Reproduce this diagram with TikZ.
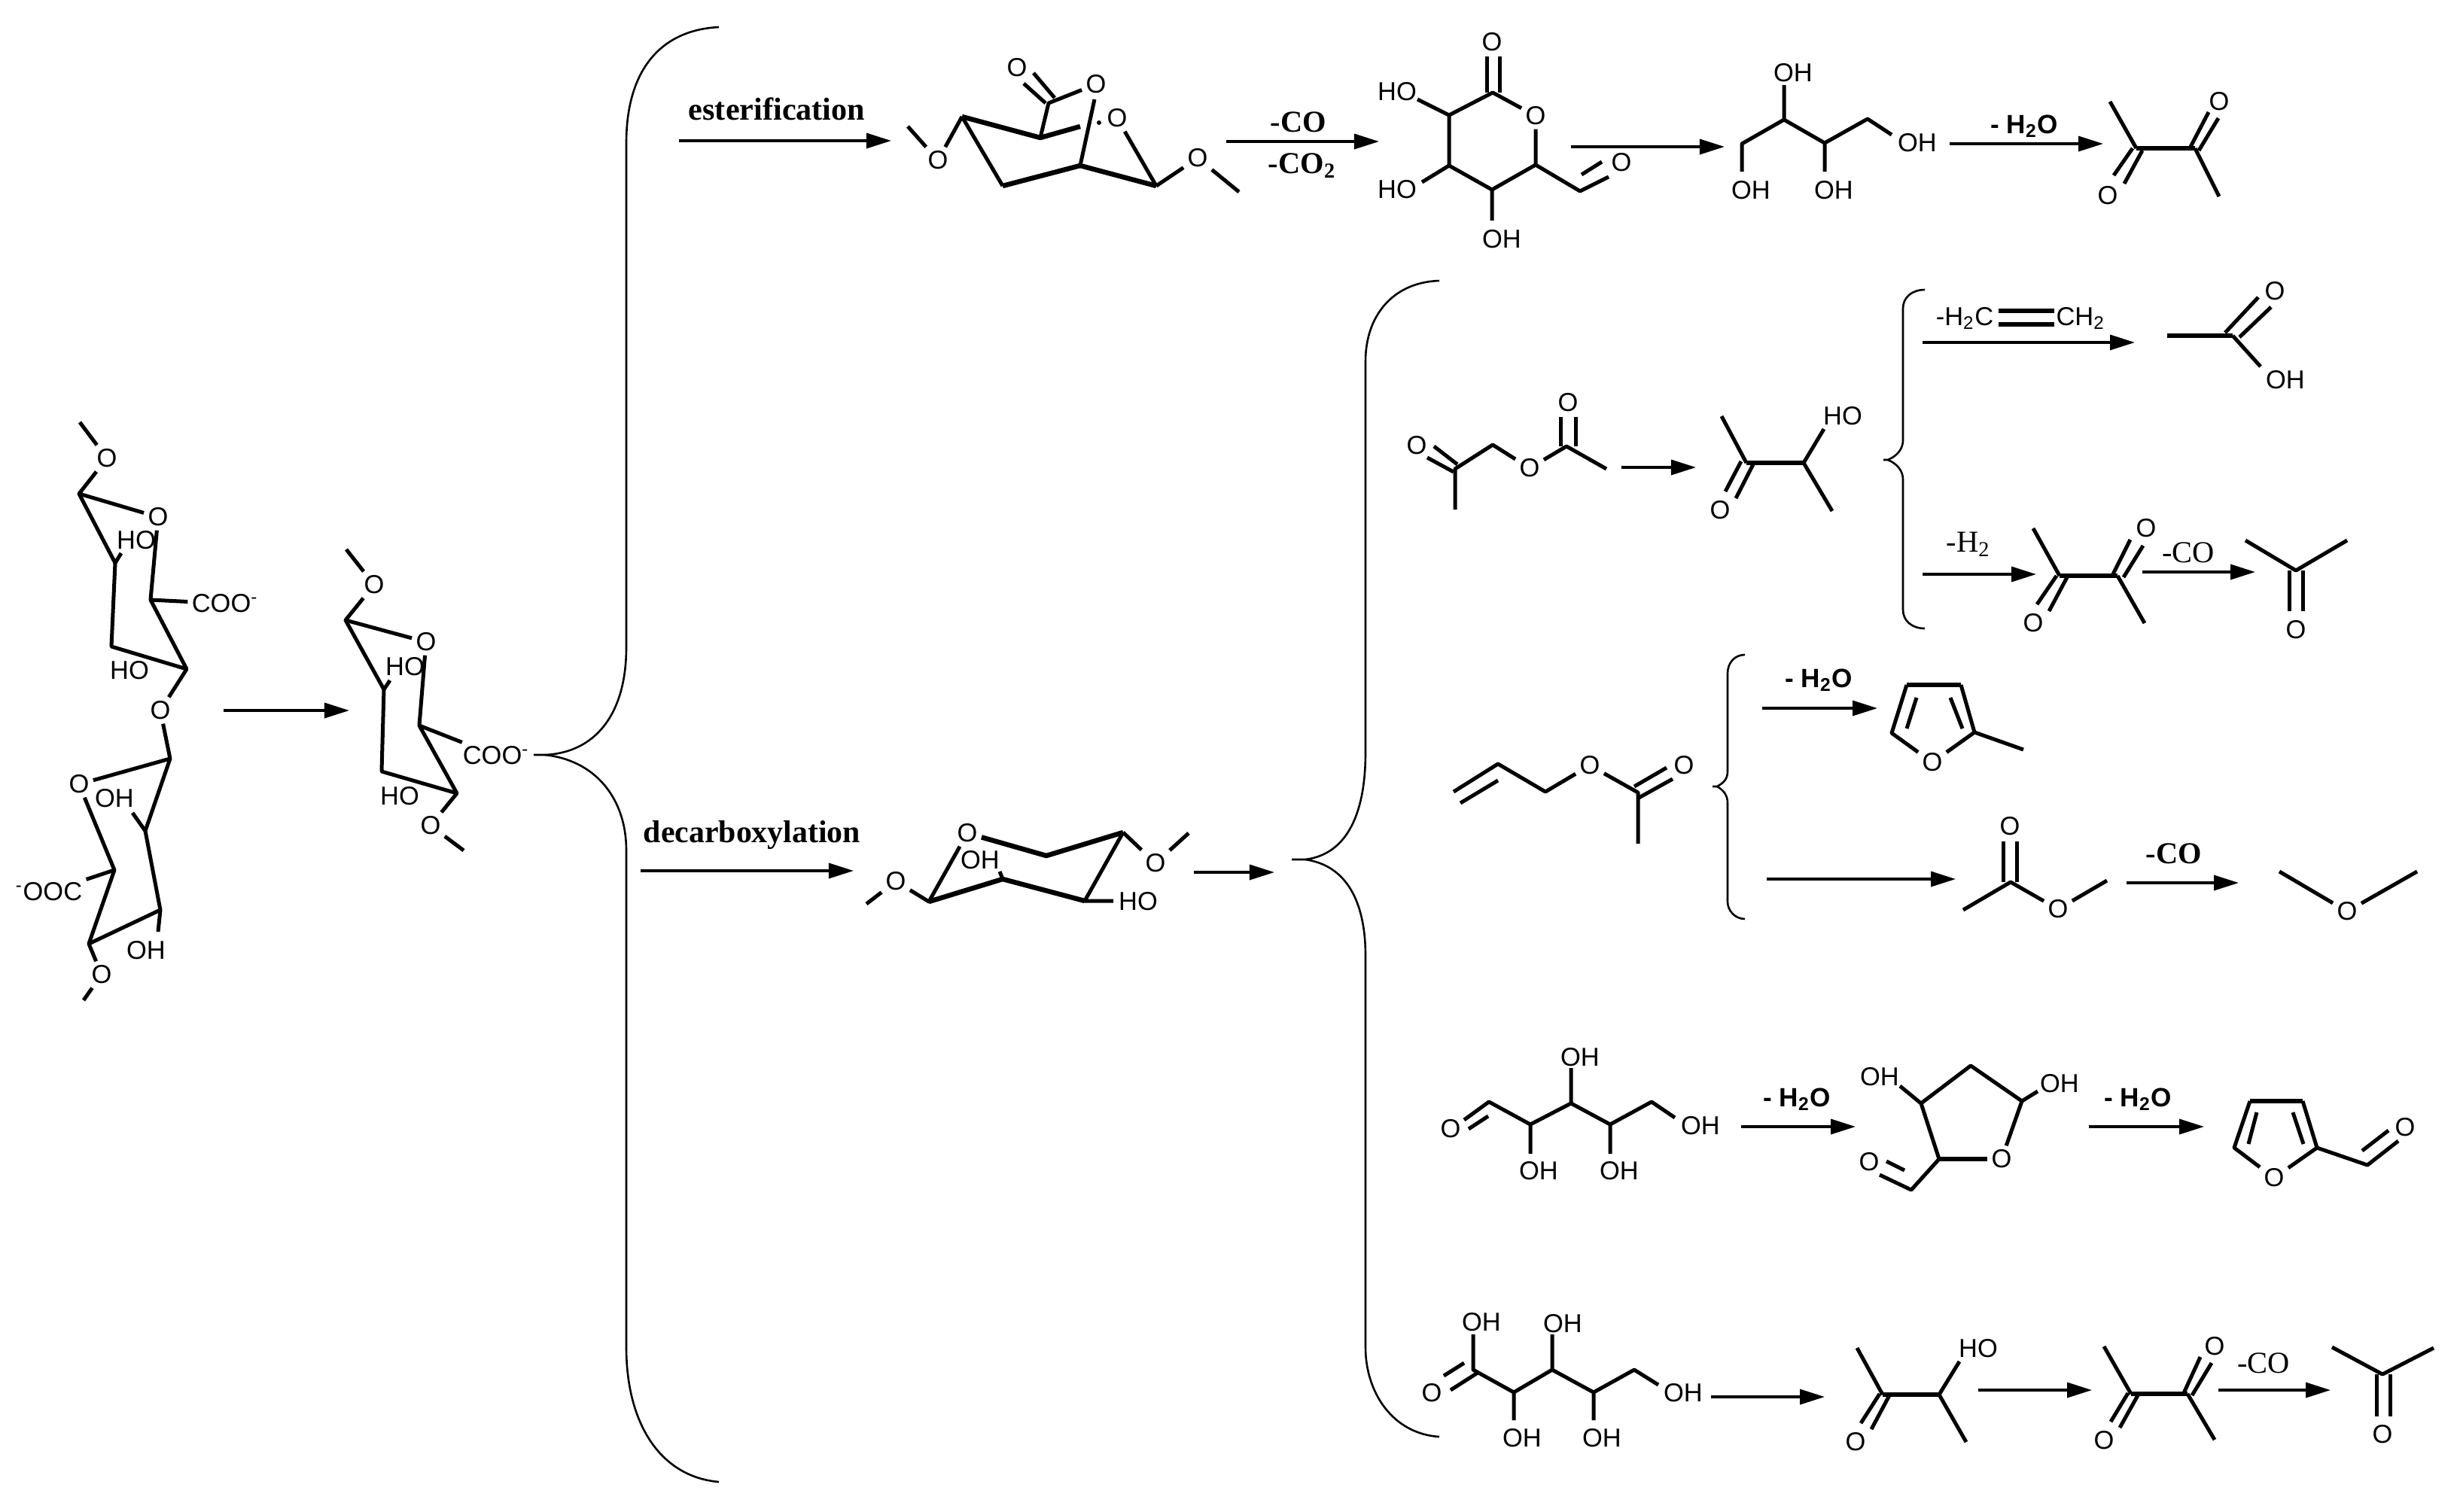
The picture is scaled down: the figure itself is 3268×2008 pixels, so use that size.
\documentclass[tikz,border=0pt]{standalone}
\usepackage{fontspec}
\setmainfont{Liberation Serif}
\setsansfont{Liberation Sans}
\usetikzlibrary{arrows.meta}
\tikzset{
  bond/.style={line width=.05cm,line join=round},
  bondb/.style={line width=.065cm,line join=round},
  brace/.style={line width=.026cm},
  rxn/.style={line width=.034cm,-{Triangle[length=.33cm,width=.2cm]}},
  atom/.style={font=\sffamily\fontsize{9.8}{11}\selectfont,inner sep=.055cm,outer sep=0pt},
  lbold/.style={font=\rmfamily\bfseries\fontsize{11.5}{14}\selectfont,anchor=base,inner sep=0pt},
  lplain/.style={font=\rmfamily\fontsize{11.5}{14}\selectfont,anchor=base,inner sep=0pt},
  lsans/.style={font=\sffamily\bfseries\fontsize{10}{12}\selectfont,anchor=base,inner sep=0pt}
}
\begin{document}
\begin{tikzpicture}[x=.01cm,y=-.01cm]
\useasboundingbox (0,0) rectangle (3268,2008);

\coordinate (A1) at (106,561); \coordinate (A2) at (105,656); \coordinate (A3) at (153,748);
\coordinate (A4) at (161,735); \coordinate (A5) at (148,859); \coordinate (A6) at (248,889);
\coordinate (A7) at (200,797); \coordinate (A8) at (226,1008); \coordinate (A9) at (193,1104);
\coordinate (A10) at (176,1080); \coordinate (A11) at (213,1209); \coordinate (A12) at (210,1238);
\coordinate (A13) at (118,1254); \coordinate (A14) at (152,1156); \coordinate (A15) at (111,1329);
\node[atom] (AO1) at (142,609) {O};
\node[atom] (AO2) at (210,687) {O};
\node[atom] (AO3) at (213,944) {O};
\node[atom] (AO4) at (105,1042) {O};
\node[atom] (AO5) at (135,1295) {O};
\node[atom] (AH1) at (181,718) {HO};
\node[atom] (AH2) at (172,891) {HO};
\node[atom] (AH3) at (152,1061) {OH};
\node[atom] (AH4) at (194,1263) {OH};
\node[atom] (AC1) at (299,802) {COO\textsuperscript{-}};
\node[atom] (AC2) at (65,1185) {\textsuperscript{-}OOC};
\draw[bond] (A1) -- (AO1) -- (A2) -- (AO2);
\draw[bond] (A2) -- (A3) -- (A4);
\draw[bond] (A3) -- (A5) -- (A6) -- (A7) -- (AO2);
\draw[bond] (A7) -- (AC1);
\draw[bond] (A6) -- (AO3) -- (A8) -- (AO4) -- (A14);
\draw[bond] (A8) -- (A9) -- (A10);
\draw[bond] (A9) -- (A11) -- (A12);
\draw[bond] (A11) -- (A13) -- (A14) -- (AC2);
\draw[bond] (A13) -- (AO5) -- (A15);
\coordinate (Ra1) at (297,944); \coordinate (Ra2) at (464,944);
\draw[rxn] (Ra1) -- (Ra2);

\coordinate (B1) at (460,730); \coordinate (B2) at (459,824); \coordinate (B3) at (510,916);
\coordinate (B4) at (518,904); \coordinate (B5) at (507,1025); \coordinate (B6) at (607,1054);
\coordinate (B7) at (557,964); \coordinate (B8) at (616,1130);
\node[atom] (BO1) at (497,777) {O};
\node[atom] (BO2) at (566,853) {O};
\node[atom] (BO3) at (572,1097) {O};
\node[atom] (BH1) at (538,886) {HO};
\node[atom] (BH2) at (531,1058) {HO};
\node[atom] (BC) at (659,1004) {COO\textsuperscript{-}};
\draw[bond] (B1) -- (BO1) -- (B2) -- (BO2);
\draw[bond] (B2) -- (B3) -- (B4);
\draw[bond] (B3) -- (B5) -- (B6) -- (B7) -- (BO2);
\draw[bond] (B7) -- (BC);
\draw[bond] (B6) -- (BO3) -- (B8);

\coordinate (Ba) at (709,1003); \coordinate (Bb) at (724,1003);
\draw[brace] (Ba) -- (Bb) .. controls (790,1000) and (832,950) .. (832,860) -- (832,190) .. controls (832,95) and (876,40) .. (955,36);
\draw[brace] (Bb) .. controls (790,1010) and (832,1060) .. (832,1130) -- (832,1790) .. controls (832,1890) and (876,1962) .. (955,1969);

\node[lbold,font=\rmfamily\bfseries\fontsize{12}{14}\selectfont] (Lest) at (1032,159) {esterification};
\coordinate (Rb1) at (902,187); \coordinate (Rb2) at (1184,187);
\draw[rxn] (Rb1) -- (Rb2);

\coordinate (C1) at (1206,168); \coordinate (C2) at (1278,155); \coordinate (C3) at (1382,183);
\coordinate (C4) at (1435,168); \coordinate (C5) at (1393,137); \coordinate (C6) at (1435,220);
\coordinate (C7) at (1332,247); \coordinate (C8) at (1536,247); \coordinate (C9) at (1646,255);
\coordinate (C10) at (1373,97); \coordinate (C11) at (1401,130); \coordinate (C12) at (1360,111);
\coordinate (C13) at (1389,137); \coordinate (C14) at (1454,132);
\node[atom] (CO1) at (1246,213) {O};
\node[atom] (CO2) at (1351,90) {O};
\node[atom] (CO3) at (1456,112) {O};
\node[atom] (CO4) at (1484,157) {O};
\node[atom] (CO5) at (1591,210) {O};
\fill (1460,163) circle (3);
\draw[bond] (C1) -- (CO1) -- (C2);
\draw[bondb] (C2) -- (C3) -- (C4);
\draw[bond] (C2) -- (C7);
\draw[bond] (C3) -- (C5) -- (CO3);
\draw[bond] (C10) -- (C11);
\draw[bond] (C12) -- (C13);
\draw[bond] (C14) -- (C6);
\draw[bondb] (C7) -- (C6) -- (C8);
\draw[bond] (C8) -- (CO4);
\draw[bond] (C8) -- (CO5) -- (C9);

\node[lbold] (Lco) at (1725,175) {-CO};
\node[lbold] (Lco2) at (1730,230) {-CO\textsubscript{2}};
\coordinate (Rc1) at (1629,188); \coordinate (Rc2) at (1832,188);
\draw[rxn] (Rc1) -- (Rc2);

\coordinate (D1) at (1883,132); \coordinate (D2) at (1925,153); \coordinate (D3) at (1983,123);
\coordinate (D4) at (1975,123); \coordinate (D5) at (1975,75); \coordinate (D6) at (1992,123);
\coordinate (D7) at (1992,75); \coordinate (D8) at (1925,220); \coordinate (D9) at (1889,242);
\coordinate (D10) at (1982,252); \coordinate (D11) at (1982,293); \coordinate (D12) at (2040,219);
\coordinate (D13) at (2099,254); \coordinate (D14) at (2137,235); \coordinate (D15) at (2101,232);
\coordinate (D16) at (2128,215);
\node[atom] (DO1) at (1982,56) {O};
\node[atom] (DO2) at (2040,154) {O};
\node[atom] (DO3) at (2154,216) {O};
\node[atom] (DH1) at (1856,122) {HO};
\node[atom] (DH2) at (1856,252) {HO};
\node[atom] (DH3) at (1995,318) {OH};
\draw[bond] (D1) -- (D2) -- (D3) -- (DO2) -- (D12);
\draw[bond] (D4) -- (D5);
\draw[bond] (D6) -- (D7);
\draw[bond] (D2) -- (D8) -- (D9);
\draw[bond] (D8) -- (D10) -- (D11);
\draw[bond] (D10) -- (D12) -- (D13) -- (D14);
\draw[bond] (D15) -- (D16);
\coordinate (Rd1) at (2087,195); \coordinate (Rd2) at (2291,195);
\draw[rxn] (Rd1) -- (Rd2);

\coordinate (E1) at (2314,228); \coordinate (E2) at (2314,191); \coordinate (E3) at (2370,159);
\coordinate (E4) at (2370,113); \coordinate (E5) at (2424,190); \coordinate (E6) at (2424,228);
\coordinate (E7) at (2481,158); \coordinate (E8) at (2513,179);
\node[atom] (EH1) at (2326,253) {OH};
\node[atom] (EH2) at (2382,97) {OH};
\node[atom] (EH3) at (2436,253) {OH};
\node[atom] (EH4) at (2547,190) {OH};
\draw[bond] (E1) -- (E2) -- (E3) -- (E4);
\draw[bond] (E3) -- (E5) -- (E6);
\draw[bond] (E5) -- (E7) -- (E8);
\node[lsans] (Lw1) at (2689,177) {- H\textsubscript{2}O};
\coordinate (Re1) at (2590,191); \coordinate (Re2) at (2794,191);
\draw[rxn] (Re1) -- (Re2);

\coordinate (F1) at (2803,135); \coordinate (F2) at (2838,197); \coordinate (F3) at (2916,197);
\coordinate (F4) at (2948,261); \coordinate (F5) at (2909,197); \coordinate (F6) at (2934,149);
\coordinate (F7) at (2921,200); \coordinate (F8) at (2947,157); \coordinate (F9) at (2833,197);
\coordinate (F10) at (2808,233); \coordinate (F11) at (2846,200); \coordinate (F12) at (2822,244);
\node[atom] (FO1) at (2948,135) {O};
\node[atom] (FO2) at (2800,260) {O};
\draw[bond] (F1) -- (F2);
\draw[bondb] (F2) -- (F3);
\draw[bond] (F3) -- (F4);
\draw[bond] (F5) -- (F6);
\draw[bond] (F7) -- (F8);
\draw[bond] (F9) -- (F10);
\draw[bond] (F11) -- (F12);

\coordinate (Bc) at (1716,1142); \coordinate (Bd) at (1734,1142);
\draw[brace] (Bc) -- (Bd) .. controls (1790,1135) and (1814,1080) .. (1814,1000) -- (1814,480) .. controls (1814,420) and (1850,375) .. (1912,373);
\draw[brace] (Bd) .. controls (1790,1150) and (1814,1200) .. (1814,1270) -- (1814,1790) .. controls (1814,1850) and (1850,1905) .. (1912,1909);
\coordinate (Rf1) at (851,1157); \coordinate (Rf2) at (1134,1157);
\node[lbold,font=\rmfamily\bfseries\fontsize{11.9}{14}\selectfont] (Ldec) at (999,1119) {decarboxylation};
\draw[rxn] (Rf1) -- (Rf2);

\coordinate (P1) at (1151,1201); \coordinate (P2) at (1234,1198); \coordinate (P3) at (1390,1137);
\coordinate (P4) at (1492,1106); \coordinate (P5) at (1579,1107); \coordinate (P6) at (1441,1197);
\coordinate (P7) at (1332,1168); \coordinate (P8) at (1328,1158); \coordinate (P9) at (1479,1197);
\node[atom] (PO1) at (1190,1171) {O};
\node[atom] (PO2) at (1285,1107) {O};
\node[atom] (PO3) at (1535,1147) {O};
\node[atom] (PH1) at (1302,1143) {OH};
\node[atom] (PH2) at (1512,1198) {HO};
\draw[bond] (P1) -- (PO1) -- (P2) -- (PO2);
\draw[bondb] (PO2) -- (P3) -- (P4);
\draw[bond] (P4) -- (PO3) -- (P5);
\draw[bond] (P4) -- (P6) -- (P9);
\draw[bondb] (P6) -- (P7) -- (P2);
\draw[bond] (P7) -- (P8);
\coordinate (Rg1) at (1586,1159); \coordinate (Rg2) at (1693,1159);
\draw[rxn] (Rg1) -- (Rg2);

\coordinate (G1) at (1933,677); \coordinate (G2) at (1933,623); \coordinate (G3) at (1936,617);
\coordinate (G4) at (1905,593); \coordinate (G5) at (1931,627); \coordinate (G6) at (1896,608);
\coordinate (G7) at (1983,591); \coordinate (G8) at (2081,593); \coordinate (G9) at (2134,623);
\coordinate (G10) at (2073,593); \coordinate (G11) at (2073,554); \coordinate (G12) at (2093,593);
\coordinate (G13) at (2093,554);
\node[atom] (GO1) at (1882,592) {O};
\node[atom] (GO2) at (2032,622) {O};
\node[atom] (GO3) at (2083,535) {O};
\draw[bond] (G1) -- (G2) -- (G7) -- (GO2) -- (G8) -- (G9);
\draw[bond] (G3) -- (G4);
\draw[bond] (G5) -- (G6);
\draw[bond] (G10) -- (G11);
\draw[bond] (G12) -- (G13);
\coordinate (Rh1) at (2154,621); \coordinate (Rh2) at (2253,621);
\draw[rxn] (Rh1) -- (Rh2);

\coordinate (H1) at (2287,553); \coordinate (H2) at (2320,615); \coordinate (H3) at (2396,615);
\coordinate (H4) at (2434,679); \coordinate (H5) at (2423,570); \coordinate (H6) at (2313,613);
\coordinate (H7) at (2292,653); \coordinate (H8) at (2329,617); \coordinate (H9) at (2306,662);
\node[atom] (HH) at (2448,553) {HO};
\node[atom] (HO1) at (2285,678) {O};
\draw[bond] (H1) -- (H2);
\draw[bondb] (H2) -- (H3);
\draw[bond] (H5) -- (H3) -- (H4);
\draw[bond] (H6) -- (H7);
\draw[bond] (H8) -- (H9);

\coordinate (Be) at (2502,611); \coordinate (Bf) at (2508,611);
\draw[brace] (Be) -- (Bf) .. controls (2522,605) and (2528,595) .. (2528,585) -- (2528,410) .. controls (2528,395) and (2540,385) .. (2557,385);
\draw[brace] (Bf) .. controls (2522,617) and (2528,627) .. (2528,637) -- (2528,810) .. controls (2528,825) and (2540,835) .. (2557,835);

\node[atom] (Iha) at (2610,423) {-H\textsubscript{2}C};
\node[atom] (Ihb) at (2764,423) {CH\textsubscript{2}};
\coordinate (I1) at (2655,413); \coordinate (I2) at (2729,413); \coordinate (I3) at (2655,431);
\coordinate (I4) at (2729,431);
\draw[bondb] (I1) -- (I2);
\draw[bondb] (I3) -- (I4);
\coordinate (Ri1) at (2554,455); \coordinate (Ri2) at (2836,455);
\draw[rxn] (Ri1) -- (Ri2);

\coordinate (J1) at (2879,446); \coordinate (J2) at (2966,446); \coordinate (J3) at (2956,442);
\coordinate (J4) at (3000,395); \coordinate (J5) at (2975,448); \coordinate (J6) at (3017,408);
\coordinate (J7) at (3003,487);
\node[atom] (JO) at (3022,387) {O};
\node[atom] (JH) at (3036,505) {OH};
\draw[bondb] (J1) -- (J2);
\draw[bond] (J2) -- (J7);
\draw[bond] (J3) -- (J4);
\draw[bond] (J5) -- (J6);

\node[lplain] (Lh2) at (2615,733) {-H\textsubscript{2}};
\coordinate (Rj1) at (2554,763); \coordinate (Rj2) at (2705,763);
\draw[rxn] (Rj1) -- (Rj2);

\coordinate (K1) at (2701,702); \coordinate (K2) at (2736,765); \coordinate (K3) at (2813,765);
\coordinate (K4) at (2849,828); \coordinate (K5) at (2806,765); \coordinate (K6) at (2830,717);
\coordinate (K7) at (2821,767); \coordinate (K8) at (2847,725); \coordinate (K9) at (2732,765);
\coordinate (K10) at (2706,803); \coordinate (K11) at (2746,767); \coordinate (K12) at (2722,812);
\node[atom] (KO1) at (2851,702) {O};
\node[atom] (KO2) at (2701,828) {O};
\draw[bond] (K1) -- (K2);
\draw[bondb] (K2) -- (K3);
\draw[bond] (K3) -- (K4);
\draw[bond] (K5) -- (K6);
\draw[bond] (K7) -- (K8);
\draw[bond] (K9) -- (K10);
\draw[bond] (K11) -- (K12);
\node[lplain] (Lc1) at (2907,747) {-CO};
\coordinate (Rk1) at (2846,760); \coordinate (Rk2) at (2996,760);
\draw[rxn] (Rk1) -- (Rk2);

\coordinate (L1) at (2983,718); \coordinate (L2) at (3050,758); \coordinate (L3) at (3118,718);
\coordinate (L4) at (3041,758); \coordinate (L5) at (3041,812); \coordinate (L6) at (3059,758);
\coordinate (L7) at (3059,812);
\node[atom] (LO) at (3050,837) {O};
\draw[bond] (L1) -- (L2) -- (L3);
\draw[bond] (L4) -- (L5);
\draw[bond] (L6) -- (L7);

\coordinate (M1) at (1931,1052); \coordinate (M2) at (1990,1015); \coordinate (M3) at (1940,1067);
\coordinate (M4) at (1990,1037); \coordinate (M5) at (2053,1052); \coordinate (M6) at (2176,1053);
\coordinate (M7) at (2171,1045); \coordinate (M8) at (2214,1020); \coordinate (M9) at (2177,1060);
\coordinate (M10) at (2222,1035); \coordinate (M11) at (2176,1121);
\node[atom] (MO1) at (2112,1017) {O};
\node[atom] (MO2) at (2237,1017) {O};
\draw[bond] (M1) -- (M2) -- (M5) -- (MO1) -- (M6) -- (M11);
\draw[bond] (M3) -- (M4);
\draw[bond] (M7) -- (M8);
\draw[bond] (M9) -- (M10);

\coordinate (Bg) at (2275,1045); \coordinate (Bh) at (2281,1045);
\draw[brace] (Bg) -- (Bh) .. controls (2290,1040) and (2295,1035) .. (2295,1025) -- (2295,895) .. controls (2295,880) and (2305,870) .. (2318,870);
\draw[brace] (Bh) .. controls (2290,1050) and (2295,1057) .. (2295,1067) -- (2295,1198) .. controls (2295,1210) and (2305,1221) .. (2318,1221);

\node[lsans] (Lw2) at (2416,913) {- H\textsubscript{2}O};
\coordinate (Rm1) at (2341,941); \coordinate (Rm2) at (2494,941);
\draw[rxn] (Rm1) -- (Rm2);

\coordinate (N1) at (2533,910); \coordinate (N2) at (2605,910); \coordinate (N3) at (2513,974);
\coordinate (N4) at (2623,973); \coordinate (N5) at (2546,927); \coordinate (N6) at (2533,968);
\coordinate (N7) at (2591,927); \coordinate (N8) at (2607,968); \coordinate (N9) at (2688,996);
\node[atom] (NO) at (2567,1013) {O};
\draw[bondb] (N1) -- (N2);
\draw[bond] (N1) -- (N3) -- (NO) -- (N4) -- (N2);
\draw[bond] (N5) -- (N6);
\draw[bond] (N7) -- (N8);
\draw[bond] (N4) -- (N9);

\coordinate (Rn1) at (2347,1168); \coordinate (Rn2) at (2598,1168);
\draw[rxn] (Rn1) -- (Rn2);

\coordinate (Q1) at (2608,1209); \coordinate (Q2) at (2671,1172); \coordinate (Q3) at (2661,1172);
\coordinate (Q4) at (2661,1118); \coordinate (Q5) at (2679,1172); \coordinate (Q6) at (2679,1118);
\coordinate (Q7) at (2799,1170);
\node[atom] (QO1) at (2670,1098) {O};
\node[atom] (QO2) at (2734,1208) {O};
\draw[bond] (Q1) -- (Q2) -- (QO2) -- (Q7);
\draw[bond] (Q3) -- (Q4);
\draw[bond] (Q5) -- (Q6);
\node[lbold] (Lc2) at (2888,1147) {-CO};
\coordinate (Rq1) at (2825,1173); \coordinate (Rq2) at (2974,1173);
\draw[rxn] (Rq1) -- (Rq2);

\coordinate (S1) at (3028,1158); \coordinate (S2) at (3211,1158);
\node[atom] (SO) at (3118,1211) {O};
\draw[bond] (S1) -- (SO) -- (S2);

\coordinate (T1) at (1978,1464); \coordinate (T2) at (1945,1488); \coordinate (T3) at (1977,1483);
\coordinate (T4) at (1951,1500); \coordinate (T5) at (2033,1494); \coordinate (T6) at (2033,1533);
\coordinate (T7) at (2087,1466); \coordinate (T8) at (2087,1419); \coordinate (T9) at (2139,1494);
\coordinate (T10) at (2139,1533); \coordinate (T11) at (2194,1464); \coordinate (T12) at (2225,1485);
\node[atom] (TO) at (1927,1500) {O};
\node[atom] (TH1) at (2044,1556) {OH};
\node[atom] (TH2) at (2099,1405) {OH};
\node[atom] (TH3) at (2151,1556) {OH};
\node[atom] (TH4) at (2259,1496) {OH};
\draw[bond] (T2) -- (T1) -- (T5) -- (T6);
\draw[bond] (T3) -- (T4);
\draw[bond] (T5) -- (T7) -- (T8);
\draw[bond] (T7) -- (T9) -- (T10);
\draw[bond] (T9) -- (T11) -- (T12);
\node[lsans] (Lw3) at (2387,1470) {- H\textsubscript{2}O};
\coordinate (Rt1) at (2313,1497); \coordinate (Rt2) at (2465,1497);
\draw[rxn] (Rt1) -- (Rt2);

\coordinate (U1) at (2524,1443); \coordinate (U2) at (2552,1466); \coordinate (U3) at (2618,1416);
\coordinate (U4) at (2686,1463); \coordinate (U5) at (2707,1450); \coordinate (U6) at (2576,1540);
\coordinate (U7) at (2539,1581); \coordinate (U8) at (2497,1561); \coordinate (U9) at (2506,1543);
\coordinate (U10) at (2530,1555);
\node[atom] (UH1) at (2497,1431) {OH};
\node[atom] (UH2) at (2736,1440) {OH};
\node[atom] (UO1) at (2659,1540) {O};
\node[atom] (UO2) at (2483,1544) {O};
\draw[bond] (U1) -- (U2) -- (U3) -- (U4) -- (U5);
\draw[bond] (U4) -- (UO1);
\draw[bondb] (UO1) -- (U6);
\draw[bond] (U2) -- (U6) -- (U7) -- (U8);
\draw[bond] (U9) -- (U10);
\node[lsans] (Lw4) at (2840,1470) {- H\textsubscript{2}O};
\coordinate (Ru1) at (2775,1497); \coordinate (Ru2) at (2928,1497);
\draw[rxn] (Ru1) -- (Ru2);

\coordinate (V1) at (2989,1463); \coordinate (V2) at (3059,1463); \coordinate (V3) at (2968,1525);
\coordinate (V4) at (3078,1525); \coordinate (V5) at (2998,1478); \coordinate (V6) at (2987,1520);
\coordinate (V7) at (3046,1478); \coordinate (V8) at (3060,1520); \coordinate (V9) at (3145,1548);
\coordinate (V10) at (3186,1516); \coordinate (V11) at (3138,1529); \coordinate (V12) at (3173,1502);
\node[atom] (VO1) at (3021,1565) {O};
\node[atom] (VO2) at (3195,1498) {O};
\draw[bondb] (V1) -- (V2);
\draw[bond] (V1) -- (V3) -- (VO1) -- (V4) -- (V2);
\draw[bond] (V5) -- (V6);
\draw[bond] (V7) -- (V8);
\draw[bond] (V4) -- (V9) -- (V10);
\draw[bond] (V11) -- (V12);

\coordinate (W1) at (1945,1811); \coordinate (W2) at (1918,1828); \coordinate (W3) at (1963,1824);
\coordinate (W4) at (1927,1847); \coordinate (W5) at (1957,1773); \coordinate (W6) at (1957,1820);
\coordinate (W7) at (2011,1850); \coordinate (W8) at (2011,1887); \coordinate (W9) at (2062,1820);
\coordinate (W10) at (2062,1773); \coordinate (W11) at (2117,1850); \coordinate (W12) at (2117,1887);
\coordinate (W13) at (2171,1820); \coordinate (W14) at (2203,1840);
\node[atom] (WO) at (1902,1851) {O};
\node[atom] (WH1) at (1968,1757) {OH};
\node[atom] (WH2) at (2022,1911) {OH};
\node[atom] (WH3) at (2076,1759) {OH};
\node[atom] (WH4) at (2128,1911) {OH};
\node[atom] (WH5) at (2236,1851) {OH};
\draw[bond] (W1) -- (W2);
\draw[bond] (W3) -- (W4);
\draw[bond] (W5) -- (W6) -- (W7) -- (W8);
\draw[bond] (W7) -- (W9) -- (W10);
\draw[bond] (W9) -- (W11) -- (W12);
\draw[bond] (W11) -- (W13) -- (W14);
\coordinate (Rw1) at (2273,1856); \coordinate (Rw2) at (2424,1856);
\draw[rxn] (Rw1) -- (Rw2);

\coordinate (X1) at (2467,1791); \coordinate (X2) at (2501,1853); \coordinate (X3) at (2576,1853);
\coordinate (X4) at (2612,1916); \coordinate (X5) at (2603,1809); \coordinate (X6) at (2497,1852);
\coordinate (X7) at (2472,1891); \coordinate (X8) at (2510,1854); \coordinate (X9) at (2486,1899);
\node[atom] (XH) at (2628,1792) {HO};
\node[atom] (XO) at (2465,1916) {O};
\draw[bond] (X1) -- (X2);
\draw[bondb] (X2) -- (X3);
\draw[bond] (X5) -- (X3) -- (X4);
\draw[bond] (X6) -- (X7);
\draw[bond] (X8) -- (X9);
\coordinate (Rx1) at (2628,1847); \coordinate (Rx2) at (2779,1847);
\draw[rxn] (Rx1) -- (Rx2);

\coordinate (Y1) at (2795,1789); \coordinate (Y2) at (2831,1852); \coordinate (Y3) at (2906,1852);
\coordinate (Y4) at (2942,1913); \coordinate (Y5) at (2901,1851); \coordinate (Y6) at (2923,1803);
\coordinate (Y7) at (2912,1854); \coordinate (Y8) at (2938,1811); \coordinate (Y9) at (2827,1851);
\coordinate (Y10) at (2804,1889); \coordinate (Y11) at (2840,1854); \coordinate (Y12) at (2816,1897);
\node[atom] (YO1) at (2942,1789) {O};
\node[atom] (YO2) at (2795,1914) {O};
\draw[bond] (Y1) -- (Y2);
\draw[bondb] (Y2) -- (Y3);
\draw[bond] (Y3) -- (Y4);
\draw[bond] (Y5) -- (Y6);
\draw[bond] (Y7) -- (Y8);
\draw[bond] (Y9) -- (Y10);
\draw[bond] (Y11) -- (Y12);
\node[lplain] (Lc3) at (3007,1824) {-CO};
\coordinate (Ry1) at (2947,1847); \coordinate (Ry2) at (3096,1847);
\draw[rxn] (Ry1) -- (Ry2);

\coordinate (Z1) at (3098,1790); \coordinate (Z2) at (3165,1826); \coordinate (Z3) at (3233,1791);
\coordinate (Z4) at (3157,1826); \coordinate (Z5) at (3157,1882); \coordinate (Z6) at (3175,1826);
\coordinate (Z7) at (3175,1882);
\node[atom] (ZO) at (3165,1906) {O};
\draw[bond] (Z1) -- (Z2) -- (Z3);
\draw[bond] (Z4) -- (Z5);
\draw[bond] (Z6) -- (Z7);
\end{tikzpicture}
\end{document}
